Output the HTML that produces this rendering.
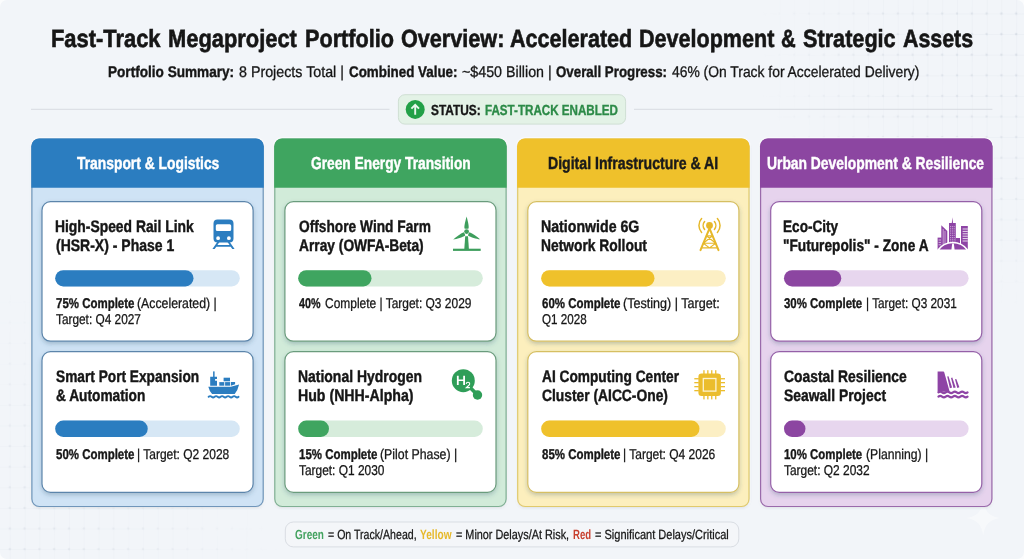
<!DOCTYPE html>
<html><head><meta charset="utf-8">
<style>
html,body{margin:0;padding:0}
body{width:1024px;height:559px;overflow:hidden;position:relative;background:#f2f5f9;font-family:"Liberation Sans",sans-serif}
.t{position:absolute;white-space:pre;line-height:1;transform-origin:0 0;text-rendering:geometricPrecision;-webkit-text-stroke-color:currentColor}
svg{position:absolute;overflow:visible}
</style></head>
<body>
<svg width="1024" height="559" viewBox="0 0 1024 559" style="left:0;top:0">
<defs>
<pattern id="grid" x="9.8" y="13.5" width="14.8" height="20.6" patternUnits="userSpaceOnUse"><path d="M0 0H14.8M0 0V20.6" fill="none" stroke="#8a9bb0" stroke-opacity=".12" stroke-width=".8"/><circle cx="0" cy="0" r="1.3" fill="#8a9bb0" fill-opacity=".2"/><circle cx="14.8" cy="0" r="1.3" fill="#8a9bb0" fill-opacity=".2"/><circle cx="0" cy="20.6" r="1.3" fill="#8a9bb0" fill-opacity=".2"/><circle cx="14.8" cy="20.6" r="1.3" fill="#8a9bb0" fill-opacity=".2"/></pattern>
<radialGradient id="g1" gradientUnits="userSpaceOnUse" cx="1024" cy="40" r="270"><stop offset="0" stop-color="#fff"/><stop offset=".55" stop-color="#fff" stop-opacity=".6"/><stop offset="1" stop-color="#fff" stop-opacity="0"/></radialGradient>
<radialGradient id="g2" gradientUnits="userSpaceOnUse" cx="0" cy="559" r="280"><stop offset="0" stop-color="#fff" stop-opacity=".7"/><stop offset=".55" stop-color="#fff" stop-opacity=".4"/><stop offset="1" stop-color="#fff" stop-opacity="0"/></radialGradient>
<mask id="m1"><rect width="1024" height="559" fill="url(#g1)"/><rect width="1024" height="559" fill="url(#g2)"/></mask>
<filter id="cs" x="-5%" y="-5%" width="110%" height="110%"><feDropShadow dx="0" dy="1" stdDeviation="1.2" flood-color="#5a6f85" flood-opacity=".22"/></filter>
<filter id="ks" x="-5%" y="-8%" width="110%" height="120%"><feDropShadow dx="0" dy="2.2" stdDeviation="2" flood-color="#33536f" flood-opacity=".28"/></filter>
</defs>
<rect width="1024" height="559" fill="url(#grid)" mask="url(#m1)"/>
<path d="M0 0h7a7 7 0 0 0-7 7zM1024 0v7a7 7 0 0 0-7-7zM0 559v-7a7 7 0 0 0 7 7zM1024 559h-7a7 7 0 0 0 7-7z" fill="#fbfcfd"/>
<path d="M983.2 500.5C985 512 989 516 1000.2 518C989 520 985 524 983.2 535.5C981.4 524 977.4 520 966.2 518C977.4 516 981.4 512 983.2 500.5Z" fill="#fff" fill-opacity=".42"/>
<path d="M31 109.3H389.5M634 109.3H992.4" stroke="#d7dbe1" stroke-width="1" fill="none"/>
<rect x="398.4" y="94.7" width="227.2" height="29.4" rx="6.5" fill="#e3f2e6" stroke="#cfdfd3" stroke-width="1"/>
<rect x="285.3" y="522" width="453.5" height="24.9" rx="8" fill="#f4f6f9" stroke="#d9dde3" stroke-width="1"/>
<rect x="30.60" y="137.80" width="233.90" height="370.00" rx="8.8" fill="none" stroke="#ffffff" stroke-opacity=".7" stroke-width="1.6"/>
<rect x="31.90" y="139.10" width="231.30" height="367.40" rx="7.5" fill="#cfe3f5" stroke="#7096ba" stroke-width="1.2" filter="url(#cs)"/>
<path d="M31.30 187.80V146.50a8 8 0 0 1 8 -8H255.80a8 8 0 0 1 8 8V187.80z" fill="#2b7dc0"/>
<rect x="42.00" y="201.65" width="211.10" height="139.55" rx="8.5" fill="#fff" stroke="#5c85ab" stroke-width="1.2" filter="url(#ks)"/>
<rect x="55.20" y="270.20" width="184.60" height="16.20" rx="8.099999999999994" fill="#d6e7f5"/>
<rect x="55.20" y="270.20" width="138.30" height="16.20" rx="8.099999999999994" fill="#2b7dc0"/>
<rect x="42.00" y="351.70" width="211.10" height="140.70" rx="8.5" fill="#fff" stroke="#5c85ab" stroke-width="1.2" filter="url(#ks)"/>
<rect x="55.20" y="420.60" width="184.60" height="16.30" rx="8.149999999999977" fill="#d6e7f5"/>
<rect x="55.20" y="420.60" width="92.55" height="16.30" rx="8.149999999999977" fill="#2b7dc0"/>
<rect x="273.50" y="137.80" width="233.90" height="370.00" rx="8.8" fill="none" stroke="#ffffff" stroke-opacity=".7" stroke-width="1.6"/>
<rect x="274.80" y="139.10" width="231.30" height="367.40" rx="7.5" fill="#d1ebd9" stroke="#80b094" stroke-width="1.2" filter="url(#cs)"/>
<path d="M274.20 187.80V146.50a8 8 0 0 1 8 -8H498.70a8 8 0 0 1 8 8V187.80z" fill="#3fa560"/>
<rect x="284.90" y="201.65" width="211.10" height="139.55" rx="8.5" fill="#fff" stroke="#6b9c7d" stroke-width="1.2" filter="url(#ks)"/>
<rect x="298.20" y="270.20" width="184.60" height="16.20" rx="8.099999999999994" fill="#d6ecdb"/>
<rect x="298.20" y="270.20" width="73.30" height="16.20" rx="8.099999999999994" fill="#3fa560"/>
<rect x="284.90" y="351.70" width="211.10" height="140.70" rx="8.5" fill="#fff" stroke="#6b9c7d" stroke-width="1.2" filter="url(#ks)"/>
<rect x="298.20" y="420.60" width="184.60" height="16.30" rx="8.149999999999977" fill="#d6ecdb"/>
<rect x="298.20" y="420.60" width="30.80" height="16.30" rx="8.149999999999977" fill="#3fa560"/>
<rect x="516.40" y="137.80" width="233.90" height="370.00" rx="8.8" fill="none" stroke="#ffffff" stroke-opacity=".7" stroke-width="1.6"/>
<rect x="517.70" y="139.10" width="231.30" height="367.40" rx="7.5" fill="#fcefbd" stroke="#e0ca6c" stroke-width="1.2" filter="url(#cs)"/>
<path d="M517.10 187.80V146.50a8 8 0 0 1 8 -8H741.60a8 8 0 0 1 8 8V187.80z" fill="#efc12b"/>
<rect x="527.80" y="201.65" width="211.10" height="139.55" rx="8.5" fill="#fff" stroke="#d6bf62" stroke-width="1.2" filter="url(#ks)"/>
<rect x="541.20" y="270.20" width="184.60" height="16.20" rx="8.099999999999994" fill="#fcefc4"/>
<rect x="541.20" y="270.20" width="113.30" height="16.20" rx="8.099999999999994" fill="#efc12b"/>
<rect x="527.80" y="351.70" width="211.10" height="140.70" rx="8.5" fill="#fff" stroke="#d6bf62" stroke-width="1.2" filter="url(#ks)"/>
<rect x="541.20" y="420.60" width="184.60" height="16.30" rx="8.149999999999977" fill="#fcefc4"/>
<rect x="541.20" y="420.60" width="158.30" height="16.30" rx="8.149999999999977" fill="#efc12b"/>
<rect x="759.30" y="137.80" width="233.90" height="370.00" rx="8.8" fill="none" stroke="#ffffff" stroke-opacity=".7" stroke-width="1.6"/>
<rect x="760.60" y="139.10" width="231.30" height="367.40" rx="7.5" fill="#e6d3ed" stroke="#9a6aab" stroke-width="1.2" filter="url(#cs)"/>
<path d="M760.00 187.80V146.50a8 8 0 0 1 8 -8H984.50a8 8 0 0 1 8 8V187.80z" fill="#8c46a1"/>
<rect x="770.70" y="201.65" width="211.10" height="139.55" rx="8.5" fill="#fff" stroke="#9560a8" stroke-width="1.2" filter="url(#ks)"/>
<rect x="784.00" y="270.20" width="184.60" height="16.20" rx="8.099999999999994" fill="#e7d6ee"/>
<rect x="784.00" y="270.20" width="57.25" height="16.20" rx="8.099999999999994" fill="#8c46a1"/>
<rect x="770.70" y="351.70" width="211.10" height="140.70" rx="8.5" fill="#fff" stroke="#9560a8" stroke-width="1.2" filter="url(#ks)"/>
<rect x="784.00" y="420.60" width="184.60" height="16.30" rx="8.149999999999977" fill="#e7d6ee"/>
<rect x="784.00" y="420.60" width="21.50" height="16.30" rx="8.149999999999977" fill="#8c46a1"/>
</svg>
<svg width="1024" height="559" viewBox="0 0 1024 559" style="left:0;top:0">
<!-- train -->
<g fill="#2b7dc0">
<path fill-rule="evenodd" d="M217.5 219.5h12a4 4 0 0 1 4 4v15a4 4 0 0 1-4 4h-12a4 4 0 0 1-4-4v-15a4 4 0 0 1 4-4zM217.4 224.2h12.2a1.6 1.6 0 0 1 1.6 1.6v3.6a1.6 1.6 0 0 1-1.6 1.6h-12.2a1.6 1.6 0 0 1-1.6-1.6v-3.6a1.6 1.6 0 0 1 1.6-1.6zM218.1 236.3a1.9 1.9 0 1 0 0 3.8a1.9 1.9 0 1 0 0-3.8zM228.9 236.3a1.9 1.9 0 1 0 0 3.8a1.9 1.9 0 1 0 0-3.8z"/>
<path d="M217.3 242l-4.9 7h2.3l1.6-2.3h14.4l1.6 2.3h2.3l-4.9-7h-2.2l2.1 3.1h-12.2l2.1-3.1z"/>
</g>
<!-- ship -->
<g fill="#2b7dc0">
<rect x="213.1" y="371.4" width="1.5" height="5.6"/>
<path d="M210.2 376.7h6.8v2.4h-1.9v1.6h1.9v5h-6.8z"/>
<rect x="223.6" y="377.7" width="6.4" height="3.6"/>
<rect x="219.3" y="382.1" width="5" height="3.6"/>
<rect x="225.1" y="382.1" width="5" height="3.6"/>
<path d="M230.9 382.1h4.2v2.2l-4.2 1.4z"/>
<path d="M208.3 386.8h22.5l8.3-2.4q-1.2 5.6-4.4 9.6h-22.6q-2.8-3-3.8-7.2z"/>
<path d="M208.6 396.8q1.5-1.3 3 0t3 0t3 0t3 0t3 0t3 0t3 0t3 0t3 0t3 0" fill="none" stroke="#2b7dc0" stroke-width="1.8" stroke-linecap="round"/>
</g>
<!-- wind turbine -->
<g fill="#3d9e5c">
<circle cx="466.6" cy="231.6" r="2.4"/>
<path d="M466.6 216.6C467.4 220 469.2 225.4 468.6 228.4Q466.6 229 464.5 228.4C464 225.4 465.8 220 466.6 216.6Z"/>
<path d="M453.2 239.5C456 237 460.6 233.6 463.7 232.3Q465 233.7 465.2 235.4C462.6 237.2 456.8 239 453.2 239.5Z"/>
<path d="M480 239.3C477.2 236.8 472.6 233.6 469.5 232.3Q468.2 233.7 468 235.4C470.6 237.2 476.4 238.9 480 239.3Z"/>
<path d="M465.2 236.2h2.8l.9 12.8h-4.6z"/>
<rect x="453" y="248.7" width="27.7" height="2.2"/>
</g>
<!-- H2 -->
<g fill="#2f9e58">
<circle cx="463.3" cy="380.7" r="11.5"/>
<circle cx="477.5" cy="395" r="4.7"/>
<path d="M469.5 389.5l2.6-2.6l4.5 4.5l-2.6 2.6z"/>
<path fill="#fff" d="M456.9 375.7h1.8v3.7h4.5v-3.7h1.8v9.3h-1.8v-4h-4.5v4h-1.8z"/>
<path d="M466.2 383.9q.1-1.6 1.8-1.6q1.7 0 1.7 1.4q0 .9-1 1.8l-2.4 2.1h3.6" fill="none" stroke="#fff" stroke-width="1.1"/>
</g>
<!-- antenna -->
<g fill="none" stroke="#e6b82a" stroke-linecap="round" stroke-linejoin="round">
<circle cx="709.5" cy="225.5" r="3.4" fill="#e6b82a" stroke="none"/>
<path stroke-width="2" d="M709.5 228.3L700.5 250.1M709.5 228.3L718.5 250.1"/>
<path stroke-width="1.15" d="M706.4 235.8H712.6M703.3 243.2H715.7M701.4 247.9H717.6M706.4 235.8L715.7 243.2M712.6 235.8L703.3 243.2M703.3 243.2L709.5 247.9L715.7 243.2"/>
<path stroke-width="1.5" d="M704.6 221.6a6 6 0 0 0 0 7.8M714.4 221.6a6 6 0 0 1 0 7.8"/>
<path stroke-width="1.5" d="M701.6 218.6a10.3 10.3 0 0 0 0 13.8M717.4 218.6a10.3 10.3 0 0 1 0 13.8"/>
</g>
<!-- chip -->
<g fill="#ebbd2d">
<rect x="698.4" y="373.6" width="22.5" height="22.4" rx="3.2"/>
<g>
<rect x="703.3" y="370.2" width="1.3" height="4"/><rect x="707.2" y="370.2" width="1.3" height="4"/><rect x="711.1" y="370.2" width="1.3" height="4"/><rect x="715.1" y="370.2" width="1.3" height="4"/>
<rect x="703.3" y="395.4" width="1.3" height="4"/><rect x="707.2" y="395.4" width="1.3" height="4"/><rect x="711.1" y="395.4" width="1.3" height="4"/><rect x="715.1" y="395.4" width="1.3" height="4"/>
<rect x="694.3" y="378.1" width="4.5" height="1.3"/><rect x="694.3" y="382" width="4.5" height="1.3"/><rect x="694.3" y="386" width="4.5" height="1.3"/><rect x="694.3" y="390" width="4.5" height="1.3"/>
<rect x="720.5" y="378.1" width="4.5" height="1.3"/><rect x="720.5" y="382" width="4.5" height="1.3"/><rect x="720.5" y="386" width="4.5" height="1.3"/><rect x="720.5" y="390" width="4.5" height="1.3"/>
</g>
<rect x="703.3" y="378.5" width="12.6" height="12.6" fill="none" stroke="#fdf3cf" stroke-width="1.3"/>
</g>
<!-- city -->
<g fill="#8e44a5">
<path d="M937.6 237.6h4.2v12.3h-4.2z"/>
<path d="M941.3 225.3l6 5.7v18.9h-6z"/>
<path d="M949 222.9h2.8l.6-5.6l.6 5.6h2.8v22.5h-6.8z"/>
<rect x="955.9" y="238" width="4.1" height="8"/>
<rect x="961" y="226" width="6.8" height="24"/>
<path d="M937.8 250.2q6-7.6 15-7.6t15 7.6z" stroke="#fff" stroke-width="1.5"/>
<path d="M952.2 243.6h1.6l.8 6.4h-3.2z" fill="#fff"/>
<g stroke="#fff" stroke-width=".8"><path d="M962.6 229h5.2M962.6 231.4h5.2M962.6 233.8h5.2M962.6 236.2h5.2M962.6 238.6h5.2M962.6 241h5.2"/><path d="M950.6 226v17M952.4 226v17M954.2 226v17" stroke-width=".5" stroke-dasharray="1.2 1"/><path d="M943.2 229v16M945 231v14" stroke-width=".5"/><path d="M938.6 240h2.4M938.6 242.4h2.4M938.6 244.8h2.4" stroke-width=".6"/></g>
</g>
<!-- seawall -->
<g fill="#8e44a5">
<path d="M937.6 371.6h5.6q.9 0 1.1.9l5.4 19.3h-12.1z"/>
<path d="M947.2 376.6l1.3-.3l3.6 11.3l-2.2.7zM951 377.9l1.3-.3l3.4 9.8l-2.2.7zM955 379.2l1.3-.3l3.1 8.4l-2.1.7z"/>
<g fill="none" stroke="#8e44a5" stroke-width="2.1" stroke-linecap="round"><path d="M938.4 392.4q1.82-1.5 3.65 0t3.65 0t3.65 0t3.65 0t3.65 0t3.65 0t3.65 0t3.65 0"/><path d="M938.4 396.6q1.82-1.5 3.65 0t3.65 0t3.65 0t3.65 0t3.65 0t3.65 0t3.65 0t3.65 0"/></g>
</g>
<!-- status arrow -->
<circle cx="415.2" cy="109.4" r="9.5" fill="#22a047"/>
<path d="M415.2 105.2v9.6M411.4 108.7l3.8-3.9l3.8 3.9" fill="none" stroke="#eaf7ee" stroke-width="1.9" stroke-linecap="butt" stroke-linejoin="miter"/>
</svg>

<span class="t" style="left:51.12px;top:27.00px;font-size:24.9px;font-weight:700;color:#161616;-webkit-text-stroke-width:0.60px;transform:scaleX(0.8794)">Fast-Track</span>
<span class="t" style="left:168.37px;top:27.00px;font-size:24.9px;font-weight:700;color:#161616;-webkit-text-stroke-width:0.60px;transform:scaleX(0.8791)">Megaproject</span>
<span class="t" style="left:304.88px;top:27.00px;font-size:24.9px;font-weight:700;color:#161616;-webkit-text-stroke-width:0.60px;transform:scaleX(0.8704)">Portfolio</span>
<span class="t" style="left:401.13px;top:27.00px;font-size:24.9px;font-weight:700;color:#161616;-webkit-text-stroke-width:0.60px;transform:scaleX(0.8687)">Overview:</span>
<span class="t" style="left:510.00px;top:27.00px;font-size:24.9px;font-weight:700;color:#161616;-webkit-text-stroke-width:0.60px;transform:scaleX(0.8665)">Accelerated</span>
<span class="t" style="left:639.13px;top:27.00px;font-size:24.9px;font-weight:700;color:#161616;-webkit-text-stroke-width:0.60px;transform:scaleX(0.8661)">Development</span>
<span class="t" style="left:780.78px;top:27.00px;font-size:24.9px;font-weight:700;color:#161616;-webkit-text-stroke-width:0.60px;transform:scaleX(0.8176)">&amp;</span>
<span class="t" style="left:803.20px;top:27.00px;font-size:24.9px;font-weight:700;color:#161616;-webkit-text-stroke-width:0.60px;transform:scaleX(0.8700)">Strategic</span>
<span class="t" style="left:902.70px;top:27.00px;font-size:24.9px;font-weight:700;color:#161616;-webkit-text-stroke-width:0.60px;transform:scaleX(0.8590)">Assets</span>
<span class="t" style="left:107.87px;top:65.00px;font-size:15.5px;font-weight:700;color:#161616;-webkit-text-stroke-width:0.39px;transform:scaleX(0.8771)">Portfolio Summary:</span>
<span class="t" style="left:238.75px;top:65.00px;font-size:15.5px;font-weight:400;color:#161616;-webkit-text-stroke-width:0.31px;transform:scaleX(0.9204)">8 Projects Total |</span>
<span class="t" style="left:348.75px;top:65.00px;font-size:15.5px;font-weight:700;color:#161616;-webkit-text-stroke-width:0.39px;transform:scaleX(0.8629)">Combined Value:</span>
<span class="t" style="left:461.75px;top:65.00px;font-size:15.5px;font-weight:400;color:#161616;-webkit-text-stroke-width:0.31px;transform:scaleX(0.9197)">~$450 Billion |</span>
<span class="t" style="left:556.25px;top:65.00px;font-size:15.5px;font-weight:700;color:#161616;-webkit-text-stroke-width:0.39px;transform:scaleX(0.8589)">Overall Progress:</span>
<span class="t" style="left:671.75px;top:65.00px;font-size:15.5px;font-weight:400;color:#161616;-webkit-text-stroke-width:0.31px;transform:scaleX(0.8946)">46% (On Track for Accelerated Delivery)</span>
<span class="t" style="left:431.30px;top:104.00px;font-size:14.6px;font-weight:700;color:#161616;-webkit-text-stroke-width:0.37px;transform:scaleX(0.8138)">STATUS:</span>
<span class="t" style="left:485.25px;top:104.00px;font-size:14.6px;font-weight:700;color:#2c8a47;-webkit-text-stroke-width:0.37px;transform:scaleX(0.7959)">FAST-TRACK ENABLED</span>
<span class="t" style="left:77.00px;top:155.00px;font-size:17.4px;font-weight:700;color:#ffffff;-webkit-text-stroke-width:0.43px;transform:scaleX(0.7959)">Transport &amp; Logistics</span>
<span class="t" style="left:54.66px;top:219.00px;font-size:16.6px;font-weight:700;color:#161616;-webkit-text-stroke-width:0.42px;transform:scaleX(0.8357)">High-Speed Rail Link</span>
<span class="t" style="left:55.50px;top:238.00px;font-size:16.6px;font-weight:700;color:#161616;-webkit-text-stroke-width:0.42px;transform:scaleX(0.8433)">(HSR-X) - Phase 1</span>
<span class="t" style="left:55.50px;top:297.00px;font-size:14.2px;font-weight:700;color:#161616;-webkit-text-stroke-width:0.36px;transform:scaleX(0.8085)">75% Complete</span>
<span class="t" style="left:137.40px;top:297.00px;font-size:14.2px;font-weight:400;color:#161616;-webkit-text-stroke-width:0.28px;transform:scaleX(0.8663)">(Accelerated) |</span>
<span class="t" style="left:55.50px;top:313.00px;font-size:14.2px;font-weight:400;color:#161616;-webkit-text-stroke-width:0.28px;transform:scaleX(0.8345)">Target: Q4 2027</span>
<span class="t" style="left:55.50px;top:369.00px;font-size:16.6px;font-weight:700;color:#161616;-webkit-text-stroke-width:0.42px;transform:scaleX(0.8256)">Smart Port Expansion</span>
<span class="t" style="left:55.50px;top:388.00px;font-size:16.6px;font-weight:700;color:#161616;-webkit-text-stroke-width:0.42px;transform:scaleX(0.8262)">&amp; Automation</span>
<span class="t" style="left:55.50px;top:448.00px;font-size:14.2px;font-weight:700;color:#161616;-webkit-text-stroke-width:0.36px;transform:scaleX(0.8085)">50% Complete</span>
<span class="t" style="left:137.15px;top:448.00px;font-size:14.2px;font-weight:400;color:#161616;-webkit-text-stroke-width:0.28px;transform:scaleX(0.8458)">| Target: Q2 2028</span>
<span class="t" style="left:310.75px;top:155.00px;font-size:17.4px;font-weight:700;color:#ffffff;-webkit-text-stroke-width:0.43px;transform:scaleX(0.7909)">Green Energy Transition</span>
<span class="t" style="left:298.50px;top:219.00px;font-size:16.6px;font-weight:700;color:#161616;-webkit-text-stroke-width:0.42px;transform:scaleX(0.8276)">Offshore Wind Farm</span>
<span class="t" style="left:298.50px;top:238.00px;font-size:16.6px;font-weight:700;color:#161616;-webkit-text-stroke-width:0.42px;transform:scaleX(0.8297)">Array (OWFA-Beta)</span>
<span class="t" style="left:298.50px;top:297.00px;font-size:14.2px;font-weight:700;color:#161616;-webkit-text-stroke-width:0.36px;transform:scaleX(0.7557)">40%</span>
<span class="t" style="left:325.25px;top:297.00px;font-size:14.2px;font-weight:400;color:#161616;-webkit-text-stroke-width:0.28px;transform:scaleX(0.8427)">Complete | Target: Q3 2029</span>
<span class="t" style="left:297.66px;top:369.00px;font-size:16.6px;font-weight:700;color:#161616;-webkit-text-stroke-width:0.42px;transform:scaleX(0.8403)">National Hydrogen</span>
<span class="t" style="left:297.65px;top:388.00px;font-size:16.6px;font-weight:700;color:#161616;-webkit-text-stroke-width:0.42px;transform:scaleX(0.8528)">Hub (NHH-Alpha)</span>
<span class="t" style="left:298.50px;top:448.00px;font-size:14.2px;font-weight:700;color:#161616;-webkit-text-stroke-width:0.36px;transform:scaleX(0.8085)">15% Complete</span>
<span class="t" style="left:380.40px;top:448.00px;font-size:14.2px;font-weight:400;color:#161616;-webkit-text-stroke-width:0.28px;transform:scaleX(0.8689)">(Pilot Phase) |</span>
<span class="t" style="left:298.50px;top:464.00px;font-size:14.2px;font-weight:400;color:#161616;-webkit-text-stroke-width:0.28px;transform:scaleX(0.8395)">Target: Q1 2030</span>
<span class="t" style="left:547.94px;top:155.00px;font-size:17.4px;font-weight:700;color:#1a1a1a;-webkit-text-stroke-width:0.43px;transform:scaleX(0.8105)">Digital Infrastructure &amp; AI</span>
<span class="t" style="left:540.65px;top:219.00px;font-size:16.6px;font-weight:700;color:#161616;-webkit-text-stroke-width:0.42px;transform:scaleX(0.8536)">Nationwide 6G</span>
<span class="t" style="left:540.67px;top:238.00px;font-size:16.6px;font-weight:700;color:#161616;-webkit-text-stroke-width:0.42px;transform:scaleX(0.8327)">Network Rollout</span>
<span class="t" style="left:541.50px;top:297.00px;font-size:14.2px;font-weight:700;color:#161616;-webkit-text-stroke-width:0.36px;transform:scaleX(0.8085)">60% Complete</span>
<span class="t" style="left:623.40px;top:297.00px;font-size:14.2px;font-weight:400;color:#161616;-webkit-text-stroke-width:0.28px;transform:scaleX(0.8865)">(Testing) | Target:</span>
<span class="t" style="left:541.50px;top:313.00px;font-size:14.2px;font-weight:400;color:#161616;-webkit-text-stroke-width:0.28px;transform:scaleX(0.8205)">Q1 2028</span>
<span class="t" style="left:541.50px;top:369.00px;font-size:16.6px;font-weight:700;color:#161616;-webkit-text-stroke-width:0.42px;transform:scaleX(0.8260)">AI Computing Center</span>
<span class="t" style="left:541.50px;top:388.00px;font-size:16.6px;font-weight:700;color:#161616;-webkit-text-stroke-width:0.42px;transform:scaleX(0.8330)">Cluster (AICC-One)</span>
<span class="t" style="left:541.50px;top:448.00px;font-size:14.2px;font-weight:700;color:#161616;-webkit-text-stroke-width:0.36px;transform:scaleX(0.8085)">85% Complete</span>
<span class="t" style="left:623.15px;top:448.00px;font-size:14.2px;font-weight:400;color:#161616;-webkit-text-stroke-width:0.28px;transform:scaleX(0.8458)">| Target: Q4 2026</span>
<span class="t" style="left:767.20px;top:155.00px;font-size:17.4px;font-weight:700;color:#ffffff;-webkit-text-stroke-width:0.43px;transform:scaleX(0.7964)">Urban Development &amp; Resilience</span>
<span class="t" style="left:783.48px;top:219.00px;font-size:16.6px;font-weight:700;color:#161616;-webkit-text-stroke-width:0.42px;transform:scaleX(0.8192)">Eco-City</span>
<span class="t" style="left:783.48px;top:238.00px;font-size:16.6px;font-weight:700;color:#161616;-webkit-text-stroke-width:0.42px;transform:scaleX(0.8247)">"Futurepolis" - Zone A</span>
<span class="t" style="left:784.25px;top:297.00px;font-size:14.2px;font-weight:700;color:#161616;-webkit-text-stroke-width:0.36px;transform:scaleX(0.8060)">30% Complete</span>
<span class="t" style="left:865.92px;top:297.00px;font-size:14.2px;font-weight:400;color:#161616;-webkit-text-stroke-width:0.28px;transform:scaleX(0.8320)">| Target: Q3 2031</span>
<span class="t" style="left:784.30px;top:369.00px;font-size:16.6px;font-weight:700;color:#161616;-webkit-text-stroke-width:0.42px;transform:scaleX(0.8363)">Coastal Resilience</span>
<span class="t" style="left:784.30px;top:388.00px;font-size:16.6px;font-weight:700;color:#161616;-webkit-text-stroke-width:0.42px;transform:scaleX(0.8382)">Seawall Project</span>
<span class="t" style="left:784.25px;top:448.00px;font-size:14.2px;font-weight:700;color:#161616;-webkit-text-stroke-width:0.36px;transform:scaleX(0.8060)">10% Complete</span>
<span class="t" style="left:866.40px;top:448.00px;font-size:14.2px;font-weight:400;color:#161616;-webkit-text-stroke-width:0.28px;transform:scaleX(0.8602)">(Planning) |</span>
<span class="t" style="left:784.30px;top:464.00px;font-size:14.2px;font-weight:400;color:#161616;-webkit-text-stroke-width:0.28px;transform:scaleX(0.8414)">Target: Q2 2032</span>
<span class="t" style="left:295.00px;top:528.00px;font-size:13.3px;font-weight:700;color:#43a25f;-webkit-text-stroke-width:0.00px;transform:scaleX(0.7505)">Green</span>
<span class="t" style="left:328.00px;top:528.00px;font-size:13.3px;font-weight:400;color:#161616;-webkit-text-stroke-width:0.27px;transform:scaleX(0.7966)">= On Track/Ahead,</span>
<span class="t" style="left:420.00px;top:528.00px;font-size:13.3px;font-weight:700;color:#e6b92c;-webkit-text-stroke-width:0.00px;transform:scaleX(0.7612)">Yellow</span>
<span class="t" style="left:456.25px;top:528.00px;font-size:13.3px;font-weight:400;color:#161616;-webkit-text-stroke-width:0.27px;transform:scaleX(0.8161)">= Minor Delays/At Risk,</span>
<span class="t" style="left:572.50px;top:528.00px;font-size:13.3px;font-weight:700;color:#c8402f;-webkit-text-stroke-width:0.00px;transform:scaleX(0.7201)">Red</span>
<span class="t" style="left:595.00px;top:528.00px;font-size:13.3px;font-weight:400;color:#161616;-webkit-text-stroke-width:0.27px;transform:scaleX(0.8281)">= Significant Delays/Critical</span>
</body></html>
